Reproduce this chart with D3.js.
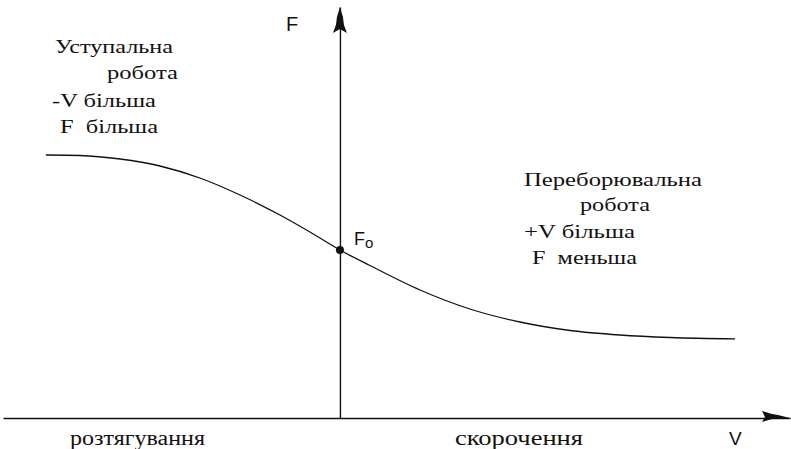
<!DOCTYPE html>
<html>
<head>
<meta charset="utf-8">
<script src="https://cdn.jsdelivr.net/npm/d3@7"></script>
<style>
  body { margin: 0; background: #fff; }
  svg { display: block; }
  .note { font-family: "Liberation Serif", "DejaVu Serif", serif; font-size: 18px; fill: #111; white-space: pre; }
  .axlab { font-family: "Liberation Serif", serif; font-size: 20px; fill: #111; }
  .sans { font-family: "Liberation Sans", Arial, sans-serif; fill: #111; }
</style>
</head>
<body>
<script>
// curve F(V)
var vValues = [-9.8, -8.67, -7.33, -6, -4.67, -3.33, -2, -1, 0, 1, 2.67, 4.33, 6, 7.67, 9.33, 11, 13.17];
var fValues = [26.3, 26.25, 25.9, 25.2, 24.0, 22.3, 20.3, 18.6, 16.8, 15.25, 12.8, 10.9, 9.6, 8.75, 8.3, 8.05, 7.92];
var f0 = 16.8;

var leftNotes = ["Уступальна", "робота", "-V більша", "F  більша"];
var rightNotes = ["Переборювальна", "робота", "+V більша", "F  меньша"];
var bottomLabels = ["розтягування", "скорочення"];

var width = 791, height = 449;

var x = d3.scaleLinear()
    .domain([-11.23, 15])
    .range([3, 790]);

var y = d3.scaleLinear()
    .domain([0, 41.1])
    .range([418, 7]);

var svg = d3.select("body").append("svg")
    .attr("width", width)
    .attr("height", height);

// axes: only the domain lines, no ticks
var xAxis = d3.axisBottom(x).tickValues([]).tickSizeOuter(0);
var yAxis = d3.axisLeft(y).tickValues([]).tickSizeOuter(0);

svg.append("g")
    .attr("transform", "translate(0," + y(0) + ")")
    .call(xAxis)
  .select(".domain")
    .attr("stroke", "#111")
    .attr("stroke-width", 1.4);

svg.append("g")
    .attr("transform", "translate(" + x(0) + ",0)")
    .call(yAxis)
  .select(".domain")
    .attr("stroke", "#111")
    .attr("stroke-width", 1.4);

// arrow heads (rough, hand-drawn look)
var xe = x.range()[1], ye = y.range()[1];
svg.append("path")
    .attr("d", "M" + xe + "," + y(0) + " l-12,-3 l-6,-1 l-10,-3 l3,6 l-3,5 l10,-3 l6,-1 z")
    .attr("fill", "#111");
svg.append("path")
    .attr("d", "M" + x(0) + "," + ye + " l-3,10 l-1,8 l-3,8 l7,-4 l7,4 l-3,-8 l-1,-8 z")
    .attr("fill", "#111");

// curve
var pts = vValues.map(function(v, i) { return [v, fValues[i]]; });
var line = d3.line()
    .x(function(d) { return x(d[0]); })
    .y(function(d) { return y(d[1]); })
    .curve(d3.curveMonotoneX);

svg.append("path")
    .datum(pts)
    .attr("d", line)
    .attr("fill", "none")
    .attr("stroke", "#111")
    .attr("stroke-width", 1.3);

svg.append("circle")
    .attr("cx", x(0))
    .attr("cy", y(f0))
    .attr("r", 4)
    .attr("fill", "#111");

// labels
svg.append("text").attr("class", "sans")
    .attr("x", 286).attr("y", 31)
    .style("font-size", "20px")
    .text("F");

var f0t = svg.append("text").attr("class", "sans")
    .attr("x", x(0) + 14).attr("y", y(f0) - 5)
    .style("font-size", "18px");
f0t.append("tspan").text("F");
f0t.append("tspan").attr("dy", 3).style("font-size", "15px").text("o");

var leftPos = [[55, 53, 118], [107, 79, 71], [52, 107, 104], [60, 133, 98]];
svg.selectAll(".ln").data(leftNotes).enter().append("text")
    .attr("class", "note")
    .attr("x", function(d, i) { return leftPos[i][0]; })
    .attr("y", function(d, i) { return leftPos[i][1]; })
    .attr("textLength", function(d, i) { return leftPos[i][2]; })
    .attr("lengthAdjust", "spacingAndGlyphs")
    .text(function(d) { return d; });

var rightPos = [[524, 186, 178], [580, 211, 70], [524, 238, 111], [532, 264, 105]];
svg.selectAll(".rn").data(rightNotes).enter().append("text")
    .attr("class", "note")
    .attr("x", function(d, i) { return rightPos[i][0]; })
    .attr("y", function(d, i) { return rightPos[i][1]; })
    .attr("textLength", function(d, i) { return rightPos[i][2]; })
    .attr("lengthAdjust", "spacingAndGlyphs")
    .text(function(d) { return d; });

var bottomPos = [[70, 135], [455, 128]];
svg.selectAll(".bl").data(bottomLabels).enter().append("text")
    .attr("class", "axlab")
    .attr("x", function(d, i) { return bottomPos[i][0]; })
    .attr("y", 445)
    .attr("textLength", function(d, i) { return bottomPos[i][1]; })
    .attr("lengthAdjust", "spacingAndGlyphs")
    .text(function(d) { return d; });

svg.append("text").attr("class", "sans")
    .attr("x", 729).attr("y", 445)
    .style("font-size", "19px").style("font-weight", "300")
    .text("V");
</script>
</body>
</html>
